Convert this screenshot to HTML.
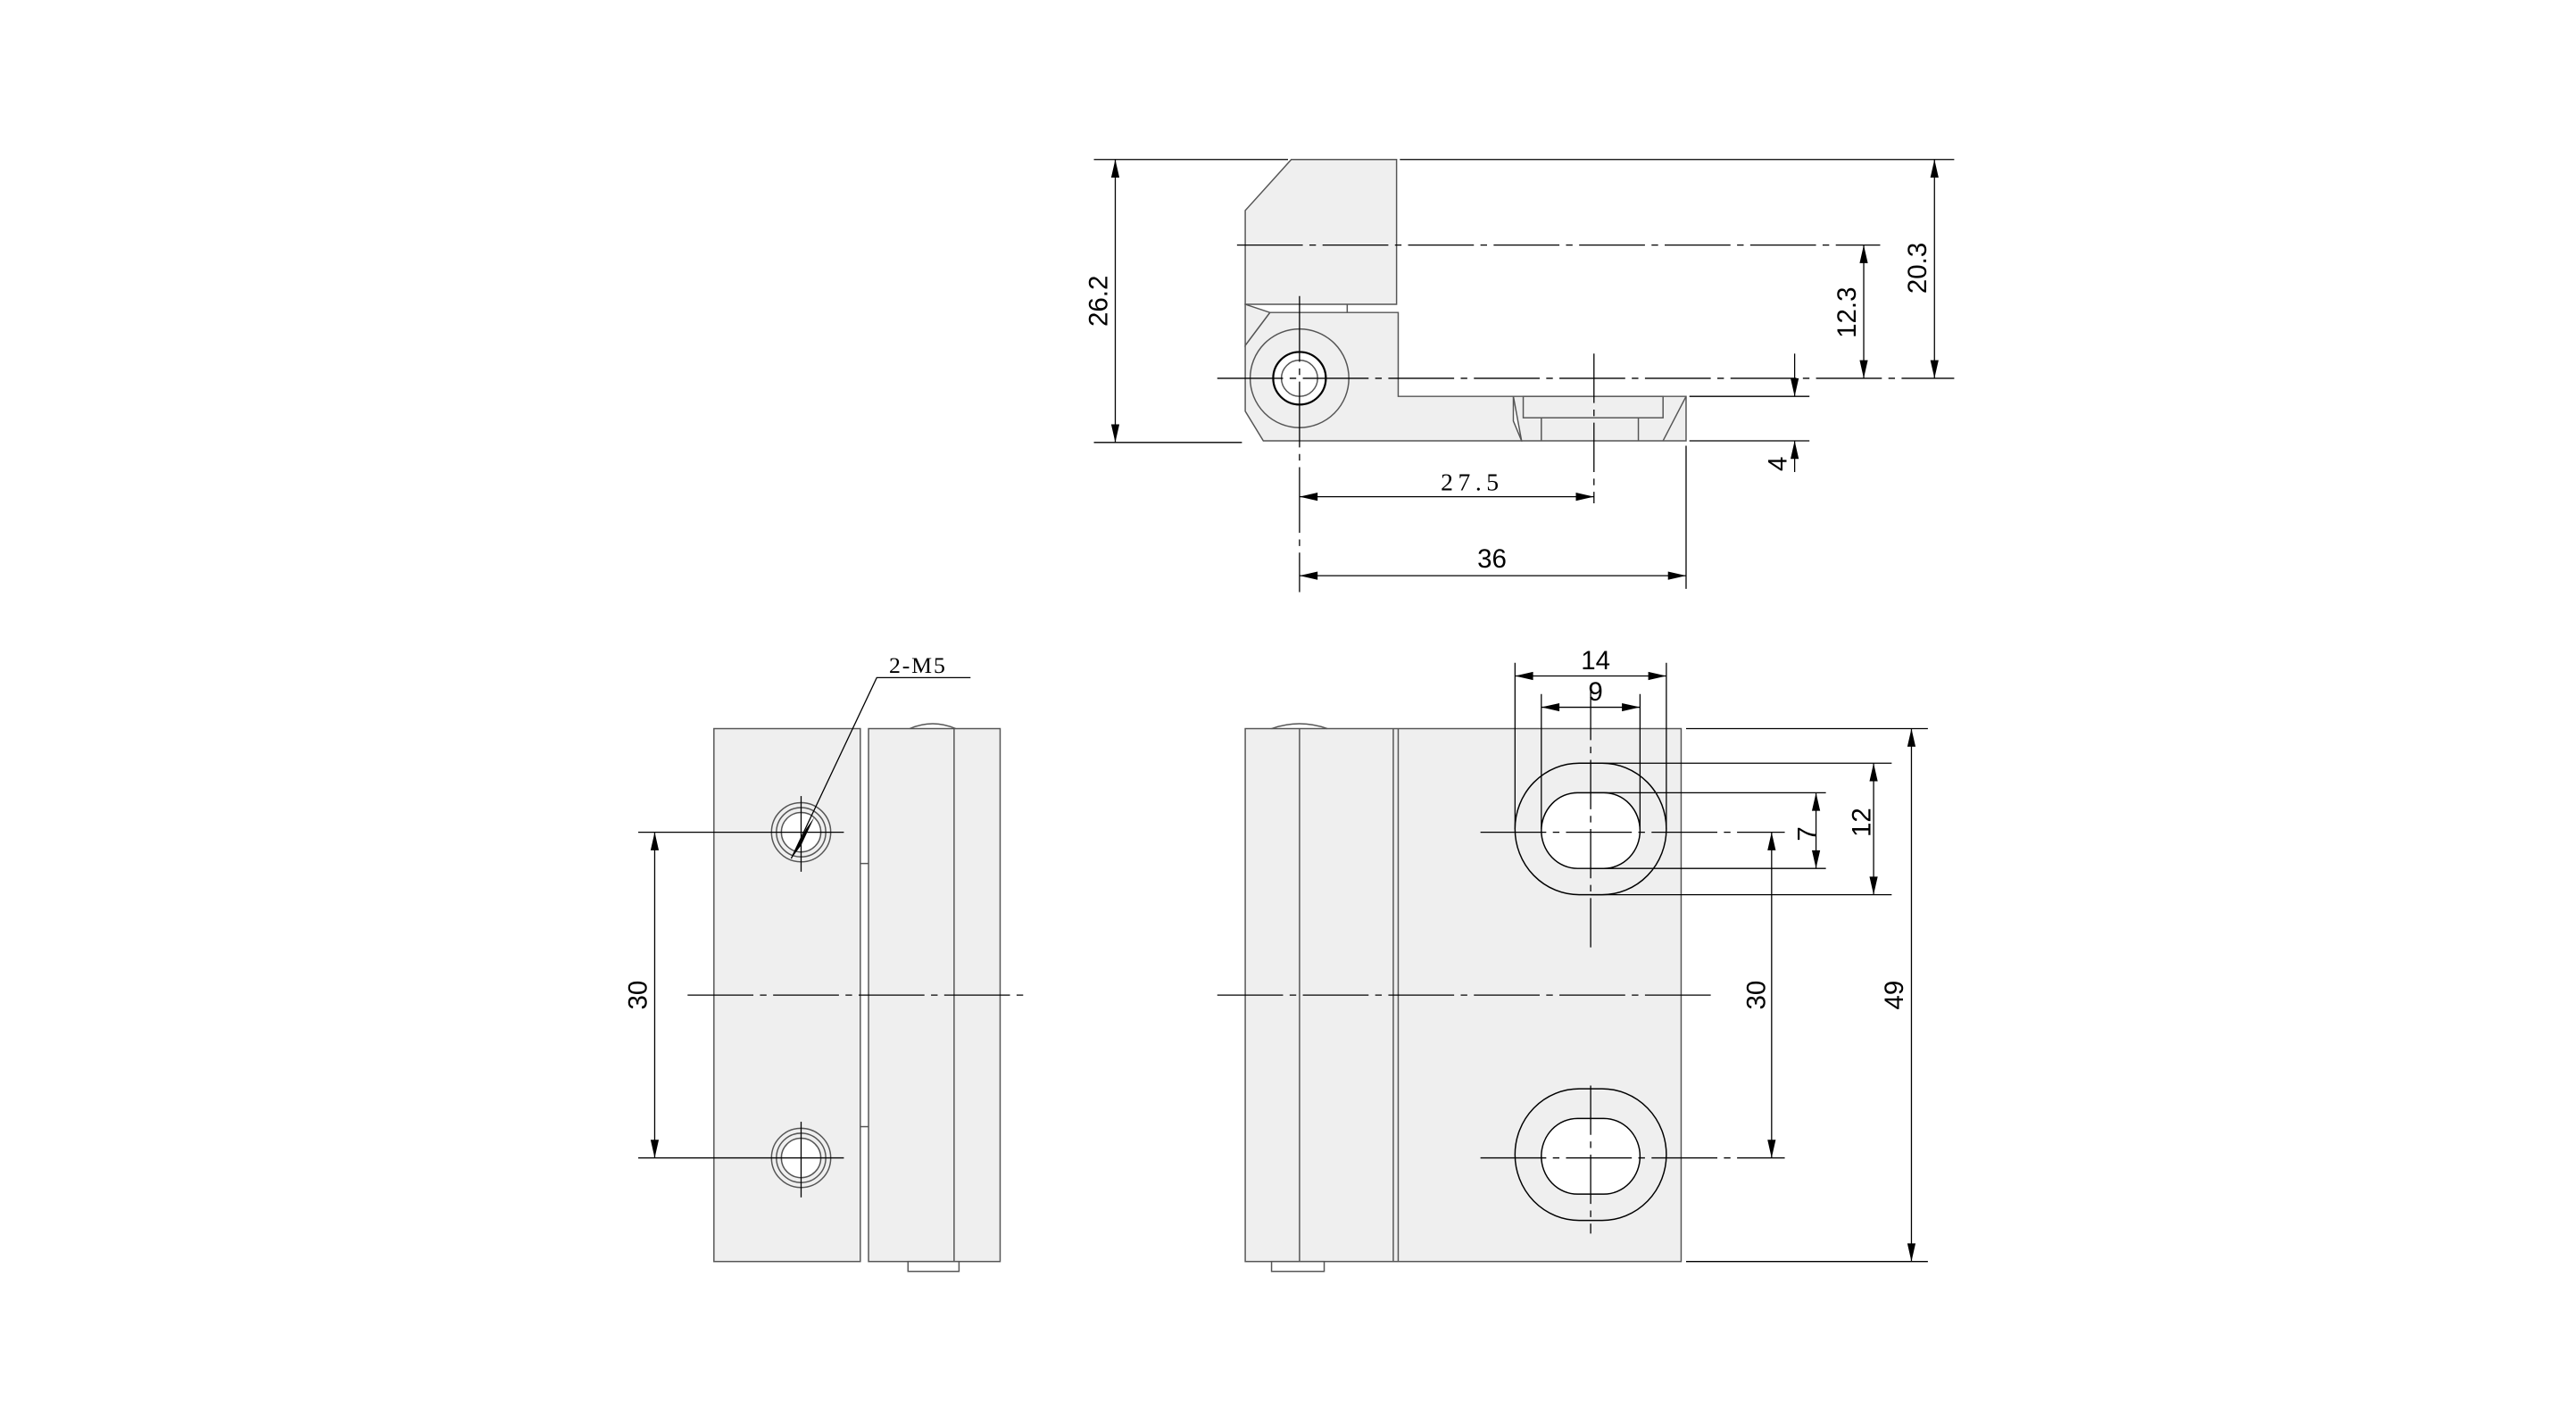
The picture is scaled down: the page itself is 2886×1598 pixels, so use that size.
<!DOCTYPE html>
<html><head><meta charset="utf-8"><style>html,body{margin:0;padding:0;background:#fff}svg{display:block}</style></head>
<body>
<svg width="2886" height="1598" viewBox="0 0 1566 867" preserveAspectRatio="none" xmlns="http://www.w3.org/2000/svg" font-family="Liberation Sans, sans-serif">
<g fill="#efefef" stroke="#555" stroke-width="0.8">
<path d="M785,97 L849,97 L849,185 L757,185 L757,128 Z"/>
<path d="M772,190 L850,190 L850,241 L920,241 L920,256 L925,268 L768,268 L757,250 L757,210 Z"/>
<path d="M757,185 L772,190 L757,210 Z"/>
<path d="M920,241 L1025,241 L1025,268 L925,268 Z"/>
<rect x="926" y="241" width="85" height="13"/>
<line x1="937" y1="254" x2="937" y2="268"/><line x1="996" y1="254" x2="996" y2="268"/>
<line x1="1025" y1="241" x2="1011" y2="268"/>
<line x1="819" y1="185" x2="819" y2="190"/>
<circle cx="790" cy="230" r="30" fill="none"/>
<circle cx="790" cy="230" r="16" fill="#fff" stroke="#000" stroke-width="1.2"/>
<circle cx="790" cy="230" r="11" fill="#fff"/>
<rect x="434" y="443" width="89" height="324"/>
<rect x="528" y="443" width="80" height="324"/>
<line x1="580" y1="443" x2="580" y2="767"/>
<path d="M553,443 Q567,437 581,443" fill="none"/>
<rect x="552" y="767" width="31" height="6" fill="#fff"/>
<line x1="523" y1="525" x2="528" y2="525"/><line x1="523" y1="685" x2="528" y2="685"/>
<circle cx="487" cy="506" r="18" fill="none"/><circle cx="487" cy="506" r="15" fill="none"/><circle cx="487" cy="506" r="12" fill="#fff"/>
<circle cx="487" cy="704" r="18" fill="none"/><circle cx="487" cy="704" r="15" fill="none"/><circle cx="487" cy="704" r="12" fill="#fff"/>
<rect x="757" y="443" width="265" height="324"/>
<line x1="790" y1="443" x2="790" y2="767"/><line x1="847" y1="443" x2="847" y2="767"/><line x1="850" y1="443" x2="850" y2="767"/>
<path d="M773,443 Q790,437 807,443" fill="none"/>
<rect x="773" y="767" width="32" height="6" fill="#fff"/>
<rect x="921" y="464" width="92" height="80" rx="39" ry="40" fill="none" stroke="#000"/>
<rect x="937" y="482" width="60" height="46" rx="22" ry="23" fill="#fff" stroke="#000"/>
<rect x="921" y="662" width="92" height="80" rx="39" ry="40" fill="none" stroke="#000"/>
<rect x="937" y="680" width="60" height="46" rx="22" ry="23" fill="#fff" stroke="#000"/>
</g>
<g stroke="#000" stroke-width="0.7" fill="none">
<line x1="665" y1="97" x2="783" y2="97"/><line x1="851" y1="97" x2="1188" y2="97"/>
<line x1="665" y1="269" x2="755" y2="269"/>
<line x1="678" y1="97" x2="678" y2="269"/>
<line x1="1176" y1="97" x2="1176" y2="230"/>
<line x1="740" y1="230" x2="1188" y2="230" stroke-dasharray="40,4,4,4"/>
<line x1="752" y1="149" x2="1143" y2="149" stroke-dasharray="40,4,4,4"/>
<line x1="1133" y1="149" x2="1133" y2="230"/>
<line x1="1027" y1="241" x2="1100" y2="241"/><line x1="1027" y1="268" x2="1100" y2="268"/>
<line x1="1091" y1="215" x2="1091" y2="241"/>
<line x1="1091" y1="287" x2="1091" y2="268"/>
<line x1="790" y1="180" x2="790" y2="360" stroke-dasharray="40,4,4,4"/>
<line x1="969" y1="215" x2="969" y2="306" stroke-dasharray="30,4,4,4"/>
<line x1="1025" y1="271" x2="1025" y2="358"/>
<line x1="790" y1="302" x2="969" y2="302"/>
<line x1="790" y1="350" x2="1025" y2="350"/>
<line x1="418" y1="605" x2="622" y2="605" stroke-dasharray="40,4,4,4"/>
<line x1="388" y1="506" x2="513" y2="506"/><line x1="388" y1="704" x2="513" y2="704"/>
<line x1="487" y1="484" x2="487" y2="530"/><line x1="487" y1="682" x2="487" y2="728"/>
<line x1="398" y1="506" x2="398" y2="704"/>
<polyline points="481,522 533,412 590,412"/>
<line x1="740" y1="605" x2="1040" y2="605" stroke-dasharray="40,4,4,4"/>
<line x1="900" y1="506" x2="1085" y2="506" stroke-dasharray="40,4,4,4"/>
<line x1="900" y1="704" x2="1085" y2="704" stroke-dasharray="40,4,4,4"/>
<line x1="967" y1="420" x2="967" y2="580" stroke-dasharray="30,4,4,4"/>
<line x1="967" y1="660" x2="967" y2="750" stroke-dasharray="30,4,4,4"/>
<line x1="921" y1="403" x2="921" y2="504"/><line x1="1013" y1="403" x2="1013" y2="504"/>
<line x1="937" y1="422" x2="937" y2="504"/><line x1="997" y1="422" x2="997" y2="504"/>
<line x1="921" y1="411" x2="1013" y2="411"/>
<line x1="937" y1="430" x2="997" y2="430"/>
<line x1="967" y1="464" x2="1150" y2="464"/><line x1="967" y1="544" x2="1150" y2="544"/>
<line x1="967" y1="482" x2="1110" y2="482"/><line x1="967" y1="528" x2="1110" y2="528"/>
<line x1="1025" y1="443" x2="1172" y2="443"/><line x1="1025" y1="767" x2="1172" y2="767"/>
<line x1="1104" y1="482" x2="1104" y2="528"/>
<line x1="1139" y1="464" x2="1139" y2="544"/>
<line x1="1077" y1="506" x2="1077" y2="704"/>
<line x1="1162" y1="443" x2="1162" y2="767"/>
</g>
<g fill="#000" stroke="none">
<path d="M481,522 L490,504 L495,497 L487,514 Z"/>
<path d="M678,97 l-2.5,11 h5z M1176,97 l-2.5,11 h5z M1133,149 l-2.5,11 h5z M1091,268 l-2.5,11 h5z M398,506 l-2.5,11 h5z M1077,506 l-2.5,11 h5z M1104,482 l-2.5,11 h5z M1139,464 l-2.5,11 h5z M1162,443 l-2.5,11 h5z"/>
<path d="M678,269 l-2.5,-11 h5z M1176,230 l-2.5,-11 h5z M1133,230 l-2.5,-11 h5z M1091,241 l-2.5,-11 h5z M398,704 l-2.5,-11 h5z M1077,704 l-2.5,-11 h5z M1104,528 l-2.5,-11 h5z M1139,544 l-2.5,-11 h5z M1162,767 l-2.5,-11 h5z"/>
<path d="M790,302 l11,-2.5 v5z M790,350 l11,-2.5 v5z M921,411 l11,-2.5 v5z M937,430 l11,-2.5 v5z"/>
<path d="M969,302 l-11,-2.5 v5z M1025,350 l-11,-2.5 v5z M1013,411 l-11,-2.5 v5z M997,430 l-11,-2.5 v5z"/>
</g>
<g font-size="16" fill="#000" text-anchor="middle">
<text transform="translate(673,183) rotate(-90)">26.2</text>
<text transform="translate(1171,163) rotate(-90)">20.3</text>
<text transform="translate(1128,190) rotate(-90)">12.3</text>
<text transform="translate(1086,282) rotate(-90)">4</text>
<text x="895" y="298" font-family="Liberation Serif, serif" font-size="15" letter-spacing="3">27.5</text>
<text x="907" y="345">36</text>
<text transform="translate(393,605) rotate(-90)">30</text>
<text x="558" y="409" font-family="Liberation Serif, serif" font-size="14" letter-spacing="1">2-M5</text>
<text x="970" y="407">14</text>
<text x="970" y="426">9</text>
<text transform="translate(1104,507) rotate(-90)">7</text>
<text transform="translate(1137,500) rotate(-90)">12</text>
<text transform="translate(1073,605) rotate(-90)">30</text>
<text transform="translate(1157,605) rotate(-90)">49</text>
</g>
</svg>
</body></html>
